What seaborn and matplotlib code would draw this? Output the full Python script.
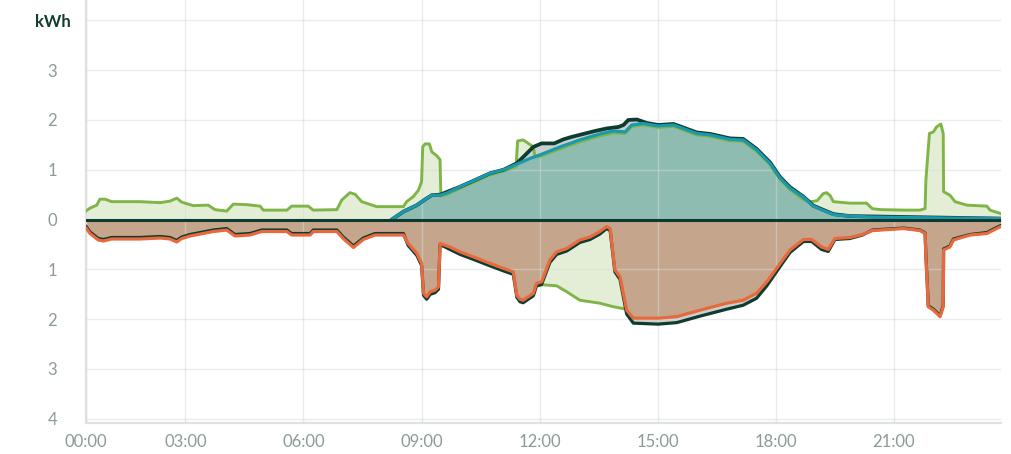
import matplotlib
matplotlib.use("Agg")
import matplotlib.pyplot as plt
import seaborn as sns

# green series (above zero)
grid_t = [0.47, 0.58, 0.75, 0.83, 0.96, 1.13, 1.85, 2.36, 2.61, 2.78, 2.91, 3.2, 3.58, 3.75, 4.05, 4.22,
          4.56, 4.9, 4.98, 5.58, 5.7, 6.12, 6.25, 6.85, 6.97, 7.18, 7.31, 7.48, 7.86, 8.54, 8.62, 8.79,
          8.92, 9.0, 9.03, 9.09, 9.2, 9.26, 9.39, 9.47, 9.49, 9.64, 9.98, 10.32, 10.74, 11.08, 11.4, 11.44,
          11.58, 11.84, 11.88, 12.01, 12.52, 13.02, 13.53, 13.87, 14.17, 14.34, 14.63, 15.01, 15.4, 15.99,
          16.33, 16.84, 17.17, 17.51, 17.85, 18.11, 18.36, 18.7, 18.9, 19.05, 19.2, 19.29, 19.38, 19.46,
          19.88, 20.3, 20.45, 20.65, 21.24, 21.66, 21.79, 21.81, 21.9, 22.0, 22.08, 22.19, 22.25, 22.26,
          22.42, 22.55, 22.85, 23.36, 23.44, 23.71]
grid_kwh = [0.17, 0.23, 0.29, 0.41, 0.41, 0.36, 0.36, 0.34, 0.37, 0.43, 0.35, 0.28, 0.29, 0.2, 0.17, 0.31,
            0.30, 0.27, 0.19, 0.19, 0.27, 0.27, 0.19, 0.2, 0.39, 0.54, 0.51, 0.36, 0.26, 0.26, 0.36, 0.46,
            0.59, 0.76, 1.46, 1.52, 1.52, 1.36, 1.28, 1.2, 0.47, 0.5, 0.63, 0.75, 0.9, 0.97, 1.06, 1.58,
            1.6, 1.46, 1.26, 1.27, 1.42, 1.56, 1.68, 1.74, 1.73, 1.87, 1.9, 1.85, 1.87, 1.7,
            1.67, 1.58, 1.57, 1.37, 1.1, 0.8, 0.6, 0.4, 0.36, 0.38, 0.52, 0.54, 0.48, 0.36,
            0.33, 0.33, 0.22, 0.2, 0.19, 0.19, 0.22, 0.79, 1.73, 1.76, 1.86, 1.92, 1.73, 0.56,
            0.49, 0.36, 0.29, 0.27, 0.19, 0.12]

# green series (below zero, midday)
grid_neg_t = [11.88, 12.09, 12.43, 12.69, 13.02, 13.28, 13.53, 13.87, 14.2]
grid_neg_kwh = [-1.34, -1.31, -1.33, -1.45, -1.62, -1.65, -1.68, -1.75, -1.8]

# teal series
pv_t = [8.24, 8.54, 8.88, 9.1, 9.26, 9.47, 9.64, 9.98, 10.32, 10.74, 11.08, 11.33, 11.5, 11.76, 12.01,
        12.52, 13.02, 13.53, 13.87, 14.17, 14.34, 14.63, 15.01, 15.4, 15.99, 16.33, 16.84, 17.17, 17.51,
        17.85, 18.11, 18.36, 18.7, 18.95, 19.46, 19.88, 20.5, 21.5, 22.5, 23.71]
pv_kwh = [0.0, 0.16, 0.29, 0.41, 0.49, 0.49, 0.53, 0.66, 0.78, 0.93, 1.0, 1.08, 1.14, 1.23, 1.3,
          1.46, 1.6, 1.72, 1.78, 1.76, 1.9, 1.93, 1.88, 1.9, 1.73, 1.7, 1.61, 1.6, 1.4,
          1.13, 0.83, 0.63, 0.45, 0.27, 0.1, 0.07, 0.05, 0.04, 0.03, 0.02]

# dark outline series above zero
pv_total_t = [8.24, 8.54, 8.88, 9.1, 9.26, 9.47, 9.98, 10.32, 10.74, 11.08, 11.42, 11.84, 12.05, 12.37,
              12.6, 12.81, 13.11, 13.41, 13.7, 14.0, 14.13, 14.25, 14.47, 14.72, 15.01, 15.4, 15.99,
              16.33, 16.84, 17.17, 17.51, 17.85, 18.11, 18.36, 18.7, 18.95, 19.46, 19.88, 23.71]
pv_total_kwh = [0.0, 0.16, 0.29, 0.41, 0.49, 0.5, 0.66, 0.78, 0.93, 1.0, 1.13, 1.46, 1.53, 1.53,
                1.61, 1.66, 1.72, 1.78, 1.83, 1.86, 1.9, 2.0, 2.01, 1.94, 1.9, 1.92, 1.75,
                1.72, 1.63, 1.62, 1.42, 1.15, 0.85, 0.65, 0.46, 0.28, 0.11, 0.07, 0.02]

# orange series (below zero) and its dark outline
use_t = [0.47, 0.58, 0.79, 0.92, 1.13, 1.85, 2.36, 2.61, 2.78, 2.91, 3.12, 3.71, 4.05, 4.26, 4.64, 4.94,
         5.58, 5.7, 6.17, 6.25, 6.85, 7.01, 7.27, 7.52, 7.82, 8.54, 8.66, 8.88, 9.0, 9.05, 9.13, 9.22,
         9.34, 9.43, 9.47, 9.72, 9.98, 10.32, 10.74, 11.08, 11.33, 11.42, 11.5, 11.58, 11.84, 11.92,
         12.05, 12.26, 12.43, 12.69, 13.02, 13.28, 13.53, 13.7, 13.79, 13.91, 14.04, 14.21, 14.38, 15.01,
         15.48, 16.07, 16.75, 17.17, 17.51, 17.77, 18.11, 18.36, 18.7, 18.91, 19.16, 19.33, 19.5, 19.88,
         20.2, 20.45, 21.24, 21.66, 21.79, 21.81, 21.84, 21.87, 22.0, 22.17, 22.25, 22.26, 22.42, 22.51,
         22.93, 23.36, 23.53, 23.71]
use_kwh = [-0.16, -0.28, -0.41, -0.43, -0.39, -0.39, -0.37, -0.39, -0.45, -0.38, -0.33, -0.24, -0.21, -0.33, -0.31, -0.24,
           -0.24, -0.31, -0.31, -0.24, -0.24, -0.38, -0.56, -0.4, -0.31, -0.31, -0.48, -0.68, -0.88, -1.48, -1.55, -1.45,
           -1.42, -1.35, -0.48, -0.55, -0.65, -0.75, -0.88, -0.98, -1.05, -1.52, -1.6, -1.62, -1.48, -1.28,
           -1.25, -0.81, -0.65, -0.58, -0.41, -0.35, -0.24, -0.14, -0.18, -1.01, -1.15, -1.82, -1.98, -1.98,
           -1.95, -1.82, -1.68, -1.62, -1.48, -1.25, -0.88, -0.61, -0.4, -0.4, -0.55, -0.6, -0.38, -0.36,
           -0.3, -0.22, -0.18, -0.22, -0.28, -0.75, -1.21, -1.75, -1.82, -1.95, -1.75, -0.61, -0.55, -0.41,
           -0.31, -0.28, -0.21, -0.14]
use_total_kwh = [-0.13, -0.25, -0.38, -0.4, -0.36, -0.36, -0.34, -0.36, -0.42, -0.35, -0.3, -0.21, -0.18, -0.3, -0.28, -0.21,
                 -0.21, -0.28, -0.28, -0.21, -0.21, -0.35, -0.53, -0.37, -0.28, -0.28, -0.52, -0.72, -0.92, -1.52, -1.6, -1.5,
                 -1.47, -1.4, -0.5, -0.6, -0.7, -0.8, -0.93, -1.03, -1.1, -1.56, -1.65, -1.67, -1.53, -1.33,
                 -1.3, -0.86, -0.7, -0.63, -0.46, -0.4, -0.29, -0.18, -0.22, -1.05, -1.2, -1.9, -2.08, -2.1,
                 -2.07, -1.94, -1.8, -1.72, -1.58, -1.33, -0.94, -0.66, -0.44, -0.44, -0.6, -0.64, -0.4, -0.38,
                 -0.31, -0.21, -0.17, -0.21, -0.27, -0.73, -1.19, -1.73, -1.8, -1.93, -1.73, -0.59, -0.53, -0.39,
                 -0.3, -0.26, -0.19, -0.12]

x_ticks = [0.47, 3, 6, 9, 12, 15, 18, 21]
x_labels = ["00:00", "03:00", "06:00", "09:00", "12:00", "15:00", "18:00", "21:00"]
y_ticks = [-4, -3, -2, -1, 0, 1, 2, 3, 4]
y_labels = ["4", "3", "2", "1", "0", "1", "2", "3", "kWh"]

sns.set_style("white")
plt.rcParams['font.family'] = ['Lato', 'DejaVu Sans']

fig = plt.figure(figsize=(10.11, 4.54), dpi=100)
ax = fig.add_axes([0.0848, 0.0689, 0.905, 0.9311])

# fills
ax.fill_between(grid_t, grid_kwh, 0, color="#e4eed7", lw=0, zorder=1.0)
ax.fill_between(grid_neg_t, grid_neg_kwh, 0, color="#e4eed7", lw=0, zorder=1.0)
ax.fill_between(pv_total_t, pv_total_kwh, 0, color="#c9d0cd", lw=0, zorder=1.2)
ax.fill_between(use_t, use_total_kwh, 0, color="#c9d0cd", lw=0, zorder=1.2)
ax.fill_between(pv_t, pv_kwh, 0, color="#8fbcb1", lw=0, zorder=1.4)
ax.fill_between(use_t, use_kwh, 0, color="#c5a68c", lw=0, zorder=1.4)

# lines
kw = dict(ax=ax, estimator=None, sort=False, legend=False,
          solid_joinstyle="round", solid_capstyle="round")
sns.lineplot(x=grid_t, y=grid_kwh, color="#7fb547", lw=2.1, zorder=3.0, **kw)
sns.lineplot(x=grid_neg_t, y=grid_neg_kwh, color="#7fb547", lw=2.1, zorder=3.0, **kw)
sns.lineplot(x=pv_total_t, y=pv_total_kwh, color="#0f3b30", lw=2.7, zorder=3.2, **kw)
sns.lineplot(x=use_t, y=use_total_kwh, color="#0f3b30", lw=2.3, zorder=3.2, **kw)
sns.lineplot(x=pv_t, y=pv_kwh, color="#1a98ad", lw=2.3, zorder=3.4, **kw)
sns.lineplot(x=use_t, y=use_kwh, color="#e8693d", lw=2.3, zorder=3.4, **kw)
ax.axhline(0, color="#0d3a2e", lw=2.2, zorder=4)

ax.set_xlim(0.47, 23.71)
ax.set_ylim(-4.08, 4.41)
ax.set_xticks(x_ticks)
ax.set_xticklabels(x_labels)
ax.set_yticks(y_ticks)
ax.set_yticklabels(y_labels)
for lab in ax.get_yticklabels():
    lab.set_horizontalalignment("center")

ax.tick_params(axis="both", length=0, labelsize=12, colors="#8b9b95")
ax.tick_params(axis="y", pad=24)
ax.tick_params(axis="x", pad=8)
kwh = ax.get_yticklabels()[-1]
kwh.set_fontweight("bold")
kwh.set_color("#123d31")

ax.set_axisbelow(False)
ax.grid(True, color="#d3dad7", alpha=0.5, lw=1.0)
for s in ["top", "right"]:
    ax.spines[s].set_visible(False)
for s in ["left", "bottom"]:
    ax.spines[s].set_color("#dfe3e1")
    ax.spines[s].set_linewidth(1.6)
ax.set_xlabel("")
ax.set_ylabel("")

fig.savefig("out.png", dpi=100)
